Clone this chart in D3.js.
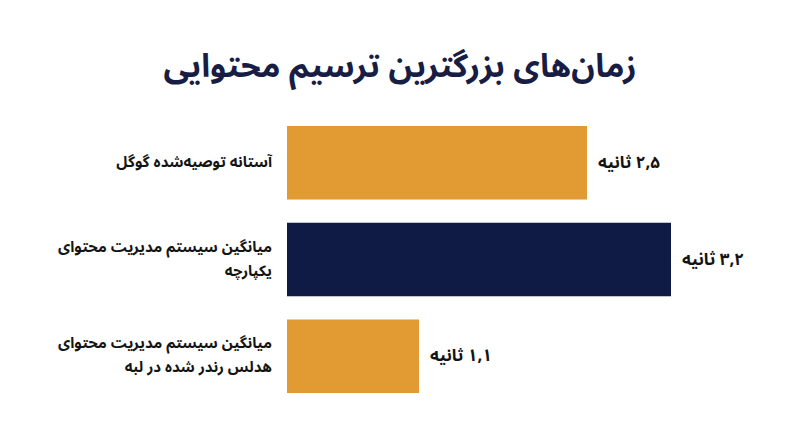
<!DOCTYPE html>
<html lang="fa">
<head>
    <meta charset="UTF-8">
    <title>زمان‌های بزرگترین ترسیم محتوایی</title>
    <script src="https://cdn.jsdelivr.net/npm/d3@7/dist/d3.min.js"></script>
    <style>
        html, body {
            margin: 0;
            padding: 0;
            background: #ffffff;
        }
        #chart {
            width: 800px;
            height: 447px;
        }
        text {
            font-family: "Noto Sans Arabic", "DejaVu Sans", sans-serif;
        }
    </style>
</head>
<body>
<div id="chart"></div>

<script>
    // داده‌ها
    var categories = ["google", "monolith", "headless"];
    var labelLines = [
        ["آستانه توصیه‌شده گوگل"],
        ["میانگین سیستم مدیریت محتوای", "یکپارچه"],
        ["میانگین سیستم مدیریت محتوای", "هدلس رندر شده در لبه"]
    ];
    var values = [2.5, 3.2, 1.1];
    var valueLabels = ["۲,۵ ثانیه", "۳,۲ ثانیه", "۱,۱ ثانیه"];
    var barColors = ["#e29a33", "#0f1b44", "#e29a33"];
    var title = "زمان‌های بزرگترین ترسیم محتوایی";

    var w = 800, h = 447;

    var svg = d3.select("#chart")
        .append("svg")
        .attr("width", w)
        .attr("height", h);

    svg.append("rect")
        .attr("width", w)
        .attr("height", h)
        .attr("fill", "#ffffff");

    // عنوان
    svg.append("text")
        .attr("x", 400)
        .attr("y", 77)
        .attr("text-anchor", "middle")
        .attr("direction", "rtl")
        .attr("font-size", 32.5)
        .attr("font-weight", "bold")
        .attr("fill", "#181d44")
        .text(title);

    var x = d3.scaleLinear()
        .domain([0, 3.2])
        .range([287, 671]);

    var y = d3.scaleBand()
        .domain(categories)
        .range([126, 393])
        .paddingInner(0.24)
        .paddingOuter(0);

    var rows = svg.selectAll("g.row")
        .data(categories)
        .enter()
        .append("g")
        .attr("class", "row");

    rows.append("rect")
        .attr("x", x(0))
        .attr("y", function (d) { return y(d); })
        .attr("width", function (d, i) { return x(values[i]) - x(0); })
        .attr("height", y.bandwidth())
        .attr("fill", function (d, i) { return barColors[i]; });

    // برچسب دسته‌ها
    rows.append("text")
        .attr("direction", "rtl")
        .attr("text-anchor", "start")
        .attr("font-size", 15)
        .attr("font-weight", "bold")
        .attr("fill", "#141414")
        .each(function (d, i) {
            var lines = labelLines[i];
            var cy = y(d) + y.bandwidth() / 2;
            var lh = 24;
            var top = cy - (lines.length - 1) * lh / 2 + 4;
            var t = d3.select(this);
            lines.forEach(function (s, j) {
                t.append("tspan")
                    .attr("x", 272)
                    .attr("y", top + j * lh)
                    .text(s);
            });
        });

    // برچسب مقادیر
    rows.append("text")
        .attr("direction", "rtl")
        .attr("text-anchor", "end")
        .attr("x", function (d, i) { return x(values[i]) + 11; })
        .attr("y", function (d) { return y(d) + y.bandwidth() / 2 + 5; })
        .attr("font-size", 17)
        .attr("font-weight", "bold")
        .attr("fill", "#141414")
        .text(function (d, i) { return valueLabels[i]; });
</script>
</body>
</html>
